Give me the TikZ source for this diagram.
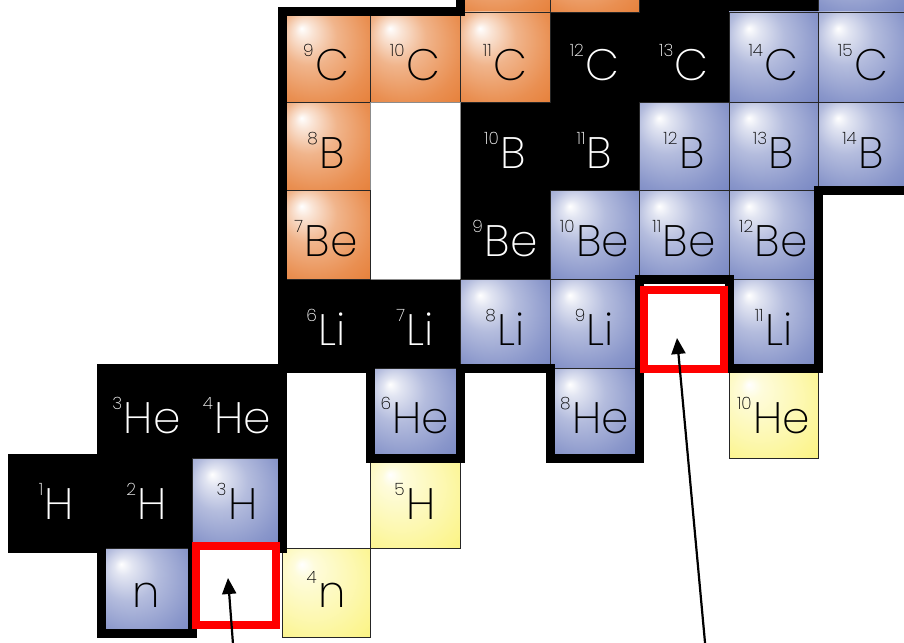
\documentclass[tikz,border=0pt]{standalone}
\usepackage{fontspec}
\setmainfont{Poppins}[UprightFont=* ExtraLight]
\usetikzlibrary{arrows.meta}
\definecolor{orE}{RGB}{226,106,24}
\definecolor{blE}{RGB}{92,110,182}
\definecolor{ylE}{RGB}{250,240,92}
\definecolor{redbox}{RGB}{255,0,0}
\pgfdeclareradialshading{orsh}{\pgfpoint{-14bp}{16bp}}{color(0bp)=(white); color(5bp)=(orE!18!white); color(16bp)=(orE!50!white); color(32bp)=(orE!75!white); color(55bp)=(orE)}
\pgfdeclareradialshading{blsh}{\pgfpoint{-14bp}{16bp}}{color(0bp)=(white); color(5bp)=(blE!18!white); color(16bp)=(blE!46!white); color(32bp)=(blE!72!white); color(55bp)=(blE)}
\pgfdeclareradialshading{ylsh}{\pgfpoint{-14bp}{16bp}}{color(0bp)=(white); color(6bp)=(ylE!22!white); color(25bp)=(ylE!50!white); color(55bp)=(ylE)}
\def\XX{{12,101,192,282,370,460,550,639,729,818,908}}
\def\YY{{-76,12,102,190,279,368,458,548,637}}
\def\BO{{0,22,22,23,23,25,29,30}}
\newcommand\iso[2]{\raisebox{24pt}{\fontsize{17}{17}\selectfont#1}\kern1.5pt#2}
\newcommand\cel[6]{%
  \pgfmathsetmacro\xa{\XX[#2]}\pgfmathsetmacro\xb{\XX[#2+1]}%
  \pgfmathsetmacro\ya{\YY[#3]}\pgfmathsetmacro\yb{\YY[#3+1]}%
  \pgfmathsetmacro\bo{\BO[#3]}%
  \node[#4, minimum width={(\xb-\xa)*1pt}, minimum height={(\yb-\ya)*1pt}] (#1) at ({(\xa+\xb)/2},{(\ya+\yb)/2}) {};
  \node[#5] (#1t) at ({(\xa+\xb)/2},{\yb-\bo}) {#6};
}
\tikzset{
  cellbase/.style={rectangle, inner sep=0pt, outer sep=0pt, draw=black!85, line width=0.8pt},
  orcell/.style={cellbase, shade, shading=orsh},
  blcell/.style={cellbase, shade, shading=blsh},
  ylcell/.style={cellbase, shade, shading=ylsh},
  stcell/.style={rectangle, inner sep=0pt, outer sep=0pt},
  holecell/.style={cellbase, fill=white, draw=black!45},
  labk/.style={anchor=base, inner sep=0pt, outer sep=0pt, font=\fontsize{44}{50}\selectfont, text=black},
  labw/.style={labk, text=white},
  bndry/.style={draw=black, line width=9pt, line join=miter},
  redframe/.style={rectangle, draw=redbox, fill=white, inner sep=0pt, outer sep=0pt},
  arr/.style={draw=black, line width=2.2pt, -{Triangle[length=16pt,width=14pt]}}
}
\begin{document}
\begin{tikzpicture}[x=1pt,y=-1pt]
\path[use as bounding box] (0,0) rectangle (904,642);
\clip (0,0) rectangle (904,642);
\fill[white] (0,0) rectangle (904,642);
% bound region
\fill[black] (460,-76) -- (908,-76) -- (908,190) -- (818,190) -- (818,368) -- (729,368) -- (729,279) -- (639,279) -- (639,458) -- (550,458) -- (550,368) -- (460,368) -- (460,458) -- (370,458) -- (370,368) -- (282,368) -- (282,548) -- (192,548) -- (192,633) -- (101,633) -- (101,548) -- (12,548) -- (12,458) -- (101,458) -- (101,368) -- (282,368) -- (282,12) -- (460,12) -- cycle;
% row 0 (N)
\cel{N12}{5}{0}{orcell}{labk}{}
\cel{N13}{6}{0}{orcell}{labk}{}
\cel{N14}{7}{0}{stcell}{labw}{}
\cel{N15}{8}{0}{stcell}{labw}{}
\cel{N16}{9}{0}{blcell}{labk}{}
% row 1 (C)
\cel{C9}{3}{1}{orcell}{labk}{\iso{9}{C}}
\cel{C10}{4}{1}{orcell}{labk}{\iso{10}{C}}
\cel{C11}{5}{1}{orcell}{labk}{\iso{11}{C}}
\cel{C12}{6}{1}{stcell}{labw}{\iso{12}{C}}
\cel{C13}{7}{1}{stcell}{labw}{\iso{13}{C}}
\cel{C14}{8}{1}{blcell}{labk}{\iso{14}{C}}
\cel{C15}{9}{1}{blcell}{labk}{\iso{15}{C}}
% row 2 (B)
\cel{B8}{3}{2}{orcell}{labk}{\iso{8}{B}}
\node[holecell, minimum width=90pt, minimum height=177pt] (gap) at (415,190.5) {};
\cel{B10}{5}{2}{stcell}{labw}{\iso{10}{B}}
\cel{B11}{6}{2}{stcell}{labw}{\iso{11}{B}}
\cel{B12}{7}{2}{blcell}{labk}{\iso{12}{B}}
\cel{B13}{8}{2}{blcell}{labk}{\iso{13}{B}}
\cel{B14}{9}{2}{blcell}{labk}{\iso{14}{B}}
% row 3 (Be)
\cel{Be7}{3}{3}{orcell}{labk}{\iso{7}{Be}}
\cel{Be9}{5}{3}{stcell}{labw}{\iso{9}{Be}}
\cel{Be10}{6}{3}{blcell}{labk}{\iso{10}{Be}}
\cel{Be11}{7}{3}{blcell}{labk}{\iso{11}{Be}}
\cel{Be12}{8}{3}{blcell}{labk}{\iso{12}{Be}}
% row 4 (Li)
\cel{Li6}{3}{4}{stcell}{labw}{\iso{6}{Li}}
\cel{Li7}{4}{4}{stcell}{labw}{\iso{7}{Li}}
\cel{Li8}{5}{4}{blcell}{labk}{\iso{8}{Li}}
\cel{Li9}{6}{4}{blcell}{labk}{\iso{9}{Li}}
\cel{Li11}{8}{4}{blcell}{labk}{\iso{11}{Li}}
% row 5 (He)
\cel{He3}{1}{5}{stcell}{labw}{\iso{3}{He}}
\cel{He4}{2}{5}{stcell}{labw}{\iso{4}{He}}
\cel{He6}{4}{5}{blcell}{labk}{\iso{6}{He}}
\cel{He8}{6}{5}{blcell}{labk}{\iso{8}{He}}
\cel{He10}{8}{5}{ylcell}{labk}{\iso{10}{He}}
% row 6 (H)
\cel{H1}{0}{6}{stcell}{labw}{\iso{1}{H}}
\cel{H2}{1}{6}{stcell}{labw}{\iso{2}{H}}
\cel{H3}{2}{6}{blcell}{labk}{\iso{3}{H}}
\cel{H5}{4}{6}{ylcell}{labk}{\iso{5}{H}}
% row 7 (n)
\cel{n1}{1}{7}{blcell}{labk}{n}
\cel{n4}{3}{7}{ylcell}{labk}{\iso{4}{n}}
% outline of the bound region
\draw[bndry] (460,-76) -- (908,-76) -- (908,190) -- (818,190) -- (818,368) -- (729,368) -- (729,279) -- (639,279) -- (639,458) -- (550,458) -- (550,368) -- (460,368) -- (460,458) -- (370,458) -- (370,368) -- (282,368) -- (282,548) -- (192,548) -- (192,633) -- (101,633) -- (101,548) -- (12,548) -- (12,458) -- (101,458) -- (101,368) -- (282,368) -- (282,12) -- (460,12) -- cycle;
% red frames
\node[redframe, line width=8pt, minimum width=80pt, minimum height=79pt] (Li10) at (684,329.5) {};
\node[redframe, line width=7.6pt, minimum width=80.4pt, minimum height=79.4pt] (n2) at (236,585.5) {};
% arrows
\coordinate (s1) at (233.3,648);
\coordinate (t1) at (228,578);
\coordinate (s2) at (705.5,648);
\coordinate (t2) at (677,338);
\draw[arr] (s1) -- (t1);
\draw[arr] (s2) -- (t2);
\end{tikzpicture}
\end{document}
